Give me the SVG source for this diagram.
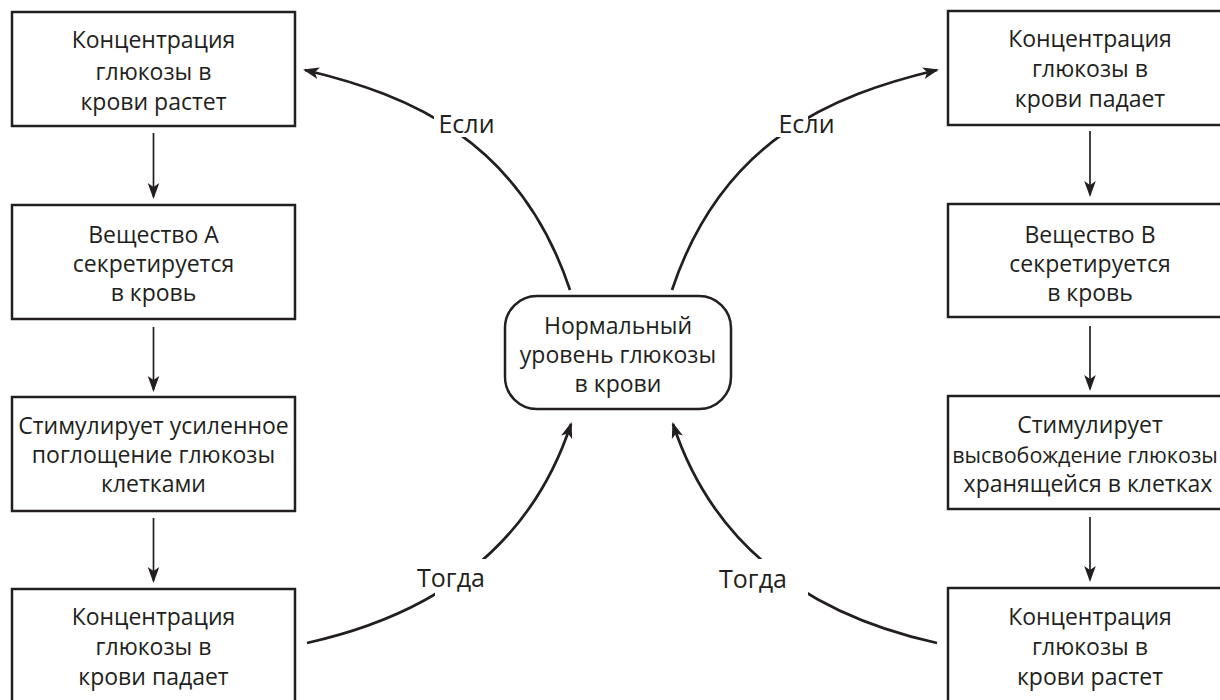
<svg xmlns="http://www.w3.org/2000/svg" width="1220" height="700" viewBox="0 0 1220 700">
<style>
.box{fill:#fff;stroke:#231f20;stroke-width:2.5}
.t{font-family:"Open Sans","Noto Sans",sans-serif;font-size:23px;fill:#231f20;text-anchor:middle}
.c{font-size:23px}
.s{font-size:21.5px}
.lbl{font-family:"Open Sans","Noto Sans",sans-serif;font-size:25px;fill:#231f20;text-anchor:middle}
.v{fill:none;stroke:#231f20;stroke-width:1.7}
.arc{fill:none;stroke:#231f20;stroke-width:2.7}
</style>
<defs>
<marker id="ah" markerUnits="userSpaceOnUse" markerWidth="20" markerHeight="16" viewBox="-16 -8 20 16" refX="0" refY="0" orient="auto">
<path d="M2,0 L-14,-5.8 L-10,0 L-14,5.8 Z" fill="#231f20"/>
</marker>
<mask id="gaps" maskUnits="userSpaceOnUse" x="0" y="0" width="1220" height="700">
<rect x="0" y="0" width="1220" height="700" fill="#fff"/>
<rect x="434" y="113" width="34" height="24" fill="#000"/>
<rect x="774" y="113" width="34" height="24" fill="#000"/>
<rect x="435" y="559" width="53" height="41" fill="#000"/>
<rect x="754" y="559" width="54" height="41" fill="#000"/>
</mask>
</defs>
<rect width="1220" height="700" fill="#fff"/>

<g id="connectors">
<path class="v" d="M153.5,133 V197" marker-end="url(#ah)"/>
<path class="v" d="M153.5,327 V390" marker-end="url(#ah)"/>
<path class="v" d="M153.5,518 V581" marker-end="url(#ah)"/>
<path class="v" d="M1090,131 V195" marker-end="url(#ah)"/>
<path class="v" d="M1090,326 V389" marker-end="url(#ah)"/>
<path class="v" d="M1090,517 V580" marker-end="url(#ah)"/>
<g mask="url(#gaps)">
<path class="arc" d="M570,290 C520,140 410,95 305,70" marker-end="url(#ah)"/>
<path class="arc" d="M672,290 C722,140 832,95 937,70" marker-end="url(#ah)"/>
<path class="arc" d="M307,643 Q514,597 571,424" marker-end="url(#ah)"/>
<path class="arc" d="M937,643 Q730,597 673,424" marker-end="url(#ah)"/>
</g>
<text class="lbl" x="466.5" y="133">Если</text>
<text class="lbl" x="806.5" y="133">Если</text>
<text class="lbl" x="451" y="587">Тогда</text>
<text class="lbl" x="753" y="588">Тогда</text>
</g>

<g id="center">
<rect class="box" x="505" y="296" width="226" height="113" rx="32" ry="32"/>
<text class="t c" x="618" y="334">Нормальный</text>
<text class="t c" x="618" y="363">уровень глюкозы</text>
<text class="t c" x="618" y="392">в крови</text>
</g>

<g id="L1">
<rect class="box" x="12" y="12" width="283" height="114"/>
<text class="t" x="153.5" y="48">Концентрация</text>
<text class="t" x="153.5" y="80">глюкозы в</text>
<text class="t" x="153.5" y="110">крови растет</text>
</g>
<g id="L2">
<rect class="box" x="12" y="205" width="283" height="114"/>
<text class="t" x="153.5" y="243">Вещество А</text>
<text class="t" x="153.5" y="272">секретируется</text>
<text class="t" x="153.5" y="301">в кровь</text>
</g>
<g id="L3">
<rect class="box" x="12" y="397" width="283" height="114"/>
<text class="t" x="153.5" y="434">Стимулирует усиленное</text>
<text class="t" x="153.5" y="463">поглощение глюкозы</text>
<text class="t" x="153.5" y="492">клетками</text>
</g>
<g id="L4">
<rect class="box" x="12" y="589" width="283" height="130"/>
<text class="t" x="153.5" y="625">Концентрация</text>
<text class="t" x="153.5" y="655">глюкозы в</text>
<text class="t" x="153.5" y="685">крови падает</text>
</g>

<g id="R1">
<rect class="box" x="948" y="11" width="290" height="114"/>
<text class="t" x="1090" y="47">Концентрация</text>
<text class="t" x="1090" y="77">глюкозы в</text>
<text class="t" x="1090" y="107">крови падает</text>
</g>
<g id="R2">
<rect class="box" x="948" y="204" width="290" height="113"/>
<text class="t" x="1090" y="243">Вещество В</text>
<text class="t" x="1090" y="272">секретируется</text>
<text class="t" x="1090" y="301">в кровь</text>
</g>
<g id="R3">
<rect class="box" x="948" y="396" width="290" height="113"/>
<text class="t" x="1090" y="433">Стимулирует</text>
<text class="t s" x="1085" y="463">высвобождение глюкозы</text>
<text class="t" x="1088" y="492">хранящейся в клетках</text>
</g>
<g id="R4">
<rect class="box" x="948" y="588" width="290" height="130"/>
<text class="t" x="1090" y="625">Концентрация</text>
<text class="t" x="1090" y="655">глюкозы в</text>
<text class="t" x="1090" y="685">крови растет</text>
</g>
</svg>
